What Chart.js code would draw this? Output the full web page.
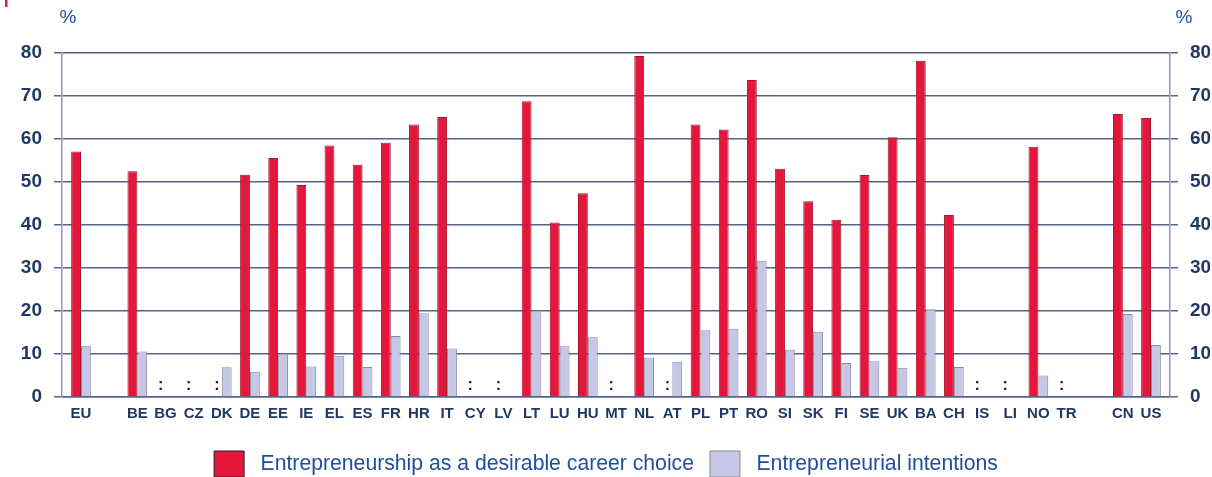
<!DOCTYPE html>
<html>
<head>
<meta charset="utf-8">
<script src="https://cdn.jsdelivr.net/npm/chart.js@4.4.1/dist/chart.umd.min.js"></script>
<style>
    html, body { margin: 0; padding: 0; background: #fff; overflow: hidden; }
    #wrap { position: relative; width: 1212px; height: 487px; }
</style>
</head>
<body>
<div id="wrap"><canvas id="careerChart"></canvas></div>
<script>
// Quốc gia / nhóm (chuỗi rỗng = khoảng trống)
const cats = ['EU', '', 'BE', 'BG', 'CZ', 'DK', 'DE', 'EE', 'IE', 'EL', 'ES', 'FR', 'HR', 'IT', 'CY', 'LV',
    'LT', 'LU', 'HU', 'MT', 'NL', 'AT', 'PL', 'PT', 'RO', 'SI', 'SK', 'FI', 'SE', 'UK', 'BA', 'CH', 'IS', 'LI',
    'NO', 'TR', '', 'CN', 'US'];

// Entrepreneurship as a desirable career choice (%)
const desirable = [57.1, null, 52.5, null, null, null, 51.7, 55.6, 49.3, 58.5, 54.0, 59.1, 63.4, 65.1, null, null,
    68.8, 40.6, 47.4, null, 79.3, null, 63.4, 62.2, 73.7, 53.1, 45.5, 41.2, 51.6, 60.4, 78.2, 42.3, null, null,
    58.2, null, null, 65.8, 64.9];

// Entrepreneurial intentions (%)
const intentions = [11.9, null, 10.6, null, null, 6.9, 5.9, 9.9, 7.1, 9.6, 7.0, 14.2, 19.5, 11.3, null, null,
    19.7, 11.8, 13.9, null, 9.2, 8.2, 15.5, 15.9, 31.7, 11.0, 15.2, 7.9, 8.3, 6.8, 20.4, 7.0, null, null,
    5.0, null, null, 19.3, 12.1];

const yTicks = [0, 10, 20, 30, 40, 50, 60, 70, 80];

const FONT = '"Liberation Sans", Arial, sans-serif';
const NAVY = '#1f3864';
const BLUE = '#1f4e9f';
const GRID = '#52658a';

// Vẽ dấu ":" (không có dữ liệu) và ký hiệu %
const extras = {
    id: 'extras',
    afterDatasetsDraw(chart) {
        const { ctx, scales } = chart;
        const meta = chart.getDatasetMeta(0);
        const base = scales.y.getPixelForValue(0);
        ctx.save();
        ctx.fillStyle = '#222';
        ctx.font = 'bold 16px ' + FONT;
        ctx.textAlign = 'center';
        ctx.textBaseline = 'alphabetic';
        cats.forEach((c, i) => {
            if (c && desirable[i] === null && meta.data[i]) {
                ctx.fillText(':', meta.data[i].x, base - 7);
            }
        });
        ctx.fillStyle = BLUE;
        ctx.font = '19px ' + FONT;
        ctx.textBaseline = 'middle';
        ctx.fillText('%', scales.y.right + 6, 18);
        ctx.fillText('%', scales.y2.left + 14, 18);
        // vệt đỏ nhỏ ở góc (phần cắt của hình gốc)
        ctx.fillStyle = '#e2173b';
        ctx.fillRect(5, 0, 2.5, 7);
        ctx.restore();
    }
};

const yAxisBase = {
    min: 0,
    max: 80,
    afterBuildTicks: s => { s.ticks = yTicks.map(v => ({ value: v })); },
    ticks: {
        color: NAVY,
        padding: 12,
        font: { family: FONT, size: 19, weight: 'bold' }
    },
    border: { display: true, color: '#8e9ab5', width: 1.5 }
};

new Chart(document.getElementById('careerChart').getContext('2d'), {
    type: 'bar',
    data: {
        labels: cats.map((c, i) => i),
        datasets: [{
            label: 'Entrepreneurship as a desirable career choice',
            data: desirable,
            backgroundColor: '#e2173b',
            borderColor: '#a8142e',
            borderWidth: 1,
            categoryPercentage: 0.7,
            barPercentage: 1
        }, {
            label: 'Entrepreneurial intentions',
            data: intentions,
            backgroundColor: '#c6c6e6',
            borderColor: '#8a8aa2',
            borderWidth: 1,
            categoryPercentage: 0.7,
            barPercentage: 1
        }]
    },
    options: {
        responsive: true,
        maintainAspectRatio: false,
        animation: false,
        layout: { padding: { left: 2, right: 2, top: 53, bottom: 0 } },
        scales: {
            x: {
                type: 'linear',
                offset: false,
                min: -0.675,
                max: cats.length - 1 + 0.675,
                afterBuildTicks: s => { s.ticks = cats.map((c, i) => ({ value: i })); },
                afterFit: s => { s.height += 4; },
                grid: { display: false, drawTicks: false },
                border: { display: true, color: GRID, width: 1.5 },
                ticks: {
                    autoSkip: false,
                    maxRotation: 0,
                    padding: 8,
                    color: NAVY,
                    font: { family: FONT, size: 15, weight: 'bold' },
                    callback: v => cats[v] || ''
                }
            },
            y: Object.assign({}, yAxisBase, {
                position: 'left',
                afterFit: s => { s.width = 60; },
                grid: { color: GRID, lineWidth: 1.5, tickLength: 8 }
            }),
            y2: Object.assign({}, yAxisBase, {
                position: 'right',
                afterFit: s => { s.width = 40; },
                grid: { drawOnChartArea: false, color: GRID, lineWidth: 1.5, tickLength: 8 }
            })
        },
        plugins: {
            legend: {
                position: 'bottom',
                labels: {
                    boxWidth: 30,
                    boxHeight: 26,
                    padding: 16,
                    color: BLUE,
                    font: { family: FONT, size: 21.2 },
                    generateLabels: chart => chart.data.datasets.map((ds, i) => ({
                        text: ' ' + ds.label,
                        fillStyle: ds.backgroundColor,
                        strokeStyle: i === 0 ? '#222' : '#888',
                        lineWidth: 1,
                        fontColor: BLUE,
                        datasetIndex: i
                    }))
                }
            },
            tooltip: { enabled: false }
        }
    },
    plugins: [extras]
});
</script>
</body>
</html>
